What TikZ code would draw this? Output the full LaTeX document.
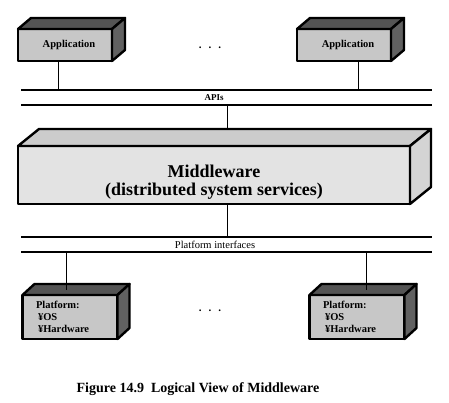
\documentclass[tikz,border=0pt]{standalone}
\usepackage{fontspec}
\setmainfont{Liberation Serif}

\definecolor{frontgray}{gray}{0.78}
\definecolor{topdark}{gray}{0.33}
\definecolor{sidedark}{gray}{0.38}
\definecolor{mwfront}{gray}{0.89}
\definecolor{mwtop}{gray}{0.80}
\definecolor{mwside}{gray}{0.83}

% top and right faces of a box node: name, dx, dy, top colour, side colour
\newcommand{\boxfaces}[5]{%
  \filldraw[line width=2.4pt, fill=#4] (#1.north west) -- ++(#2,-#3)
    -- ([shift={(#2,-#3)}]#1.north east) -- (#1.north east) -- cycle;
  \filldraw[line width=2.4pt, fill=#5] (#1.north east) -- ++(#2,-#3)
    -- ([shift={(#2,-#3)}]#1.south east) -- (#1.south east) -- cycle;
}

\begin{document}
\begin{tikzpicture}[x=1pt, y=-1pt, node distance=279pt, line join=round]
    \tikzset{slab/.style={draw,rectangle,line width=2.4pt,outer sep=0pt,inner sep=0pt,
               font=\bfseries\fontsize{10.5}{12}\selectfont},
             app/.style={slab,fill=frontgray,minimum width=94pt,minimum height=32pt},
             platform/.style={slab,fill=frontgray,minimum width=95pt,minimum height=44pt,
               text width=68pt,inner xsep=13.5pt,align=left},
             bus/.style={line width=1.6pt},
             link/.style={line width=0.8pt},
             dots/.style={font=\bfseries\fontsize{11}{11}\selectfont}}
    \useasboundingbox (0,0) rectangle (449,403);

    \node[app] (app1) at (65,45)       {\hspace{8pt}Application};
    \node[app] (app2) [right of=app1]  {\hspace{8pt}Application};
    \node[dots] (appdots) at (210,48)  {.\hspace{7pt}.\hspace{7pt}.};
    \boxfaces{app1}{13}{11}{topdark}{sidedark}
    \boxfaces{app2}{13}{11}{topdark}{sidedark}

    \coordinate (apiA) at (21,90);   \coordinate (apiB) at (432,90);
    \coordinate (apiC) at (21,105);  \coordinate (apiD) at (432,105);
    \node[font=\bfseries\fontsize{9}{9}\selectfont] (apis) at (214,98) {APIs};

    \node[slab,fill=mwfront,minimum width=392pt,minimum height=58pt] (mw) at (214,175) {};
    \boxfaces{mw}{21}{17}{mwtop}{mwside}
    \node[align=center,font=\bfseries\fontsize{18}{18}\selectfont] (mwtitle)
         at ([yshift=-7pt]mw.center) {Middleware\\(distributed system services)};
    \coordinate (mwback) at ([shift={(13,-17)}]mw.north);

    \coordinate (platA) at (21,237);  \coordinate (platB) at (432,237);
    \coordinate (platC) at (21,252);  \coordinate (platD) at (432,252);
    \node[font=\fontsize{10.5}{10.5}\selectfont] (platif) at (215,245) {Platform interfaces};

    \node[platform] (plat1) at (70,317) {Platform:\\\hspace*{2pt}¥OS\\\hspace*{2pt}¥Hardware};
    \node[platform] (plat2) [right of=plat1, node distance=287pt]
         {Platform:\\\hspace*{2pt}¥OS\\\hspace*{2pt}¥Hardware};
    \node[dots] (platdots) at (210,311) {.\hspace{7pt}.\hspace{7pt}.};
    \boxfaces{plat1}{12}{11}{topdark}{sidedark}
    \boxfaces{plat2}{12}{11}{topdark}{sidedark}

    \draw[bus] (apiA) -- (apiB);
    \draw[bus] (apiC) -- (apiD);
    \draw[bus] (platA) -- (platB);
    \draw[bus] (platC) -- (platD);
    \draw[link] ([xshift=-7pt]app1.south) -- ([xshift=-7pt]app1.south |- apiA);
    \draw[link] ([xshift=14pt]app2.south) -- ([xshift=14pt]app2.south |- apiA);
    \draw[link] (mwback |- apiC) -- (mwback);
    \draw[link] ([xshift=13pt]mw.south) -- ([xshift=13pt]mw.south |- platA);
    \draw[link] ([xshift=-4pt]plat1.north |- platC) -- ([shift={(-4,-5.5)}]plat1.north);
    \draw[link] ([xshift=9pt]plat2.north |- platC) -- ([shift={(9,-5.5)}]plat2.north);

    \node[font=\bfseries\fontsize{14}{14}\selectfont] (caption) at (198,389)
         {Figure 14.9~~Logical View of Middleware};
\end{tikzpicture}
\end{document}
